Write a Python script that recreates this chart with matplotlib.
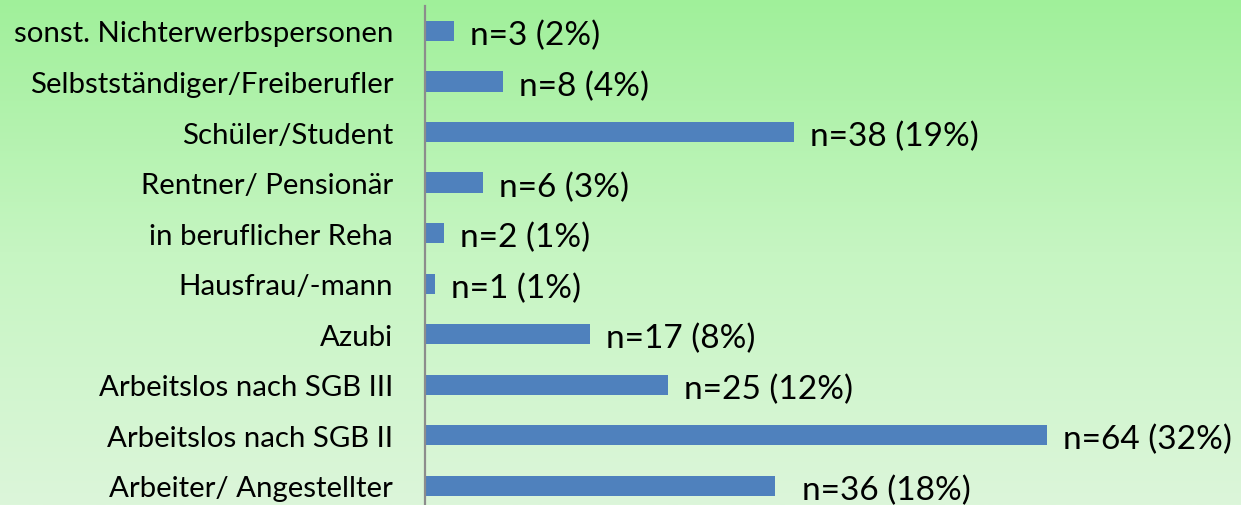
import numpy as np
import matplotlib
matplotlib.use("Agg")
import matplotlib.pyplot as plt
from matplotlib.colors import LinearSegmentedColormap

categories = ["Arbeiter/ Angestellter", "Arbeitslos nach SGB II", "Arbeitslos nach SGB III",
              "Azubi", "Hausfrau/-mann", "in beruflicher Reha", "Rentner/ Pensionär",
              "Schüler/Student", "Selbstständiger/Freiberufler", "sonst. Nichterwerbspersonen"]
counts = [36, 64, 25, 17, 1, 2, 6, 38, 8, 3]
percents = [18, 32, 12, 8, 1, 1, 3, 19, 4, 2]

W, H = 1241, 506
fig = plt.figure(figsize=(W / 100, H / 100), dpi=100)

# gradient background
bg = fig.add_axes([0, 0, 1, 1], zorder=0)
cmap = LinearSegmentedColormap.from_list("g", ["#dcf6da", "#c6f5c2", "#a0f09a"])
grad = np.linspace(0, 1, 256).reshape(-1, 1)
bg.imshow(grad, aspect="auto", cmap=cmap, origin="lower", extent=[0, 1, 0, 1])
bg.set_axis_off()

font = "Lato"
left = 425 / W
right = 1241 / W
top_px = 6.7
bot_px = 512.0
ax = fig.add_axes([left, 1 - bot_px / H, right - left, (bot_px - top_px) / H], zorder=1)
ax.set_facecolor("none")

y = np.arange(len(categories))
ax.barh(y, counts, height=0.4, color="#4F81BD", zorder=2)
ax.set_ylim(-0.5, len(categories) - 0.5)
xmax = (1241 - 425) / 9.72
ax.set_xlim(0, xmax)

ax.set_yticks(y)
ax.set_yticklabels(categories, fontsize=21.2, family=font)
ax.tick_params(axis="y", length=0, pad=23)
ax.set_xticks([])
for s in ["top", "right", "bottom"]:
    ax.spines[s].set_visible(False)
ax.spines["left"].set_color("#8c8c8c")
ax.spines["left"].set_linewidth(1.6)

for i, (yi, c, p) in enumerate(zip(y, counts, percents)):
    dx = 27 if i == 0 else 16
    ax.annotate(f"n={c} ({p}%)", xy=(c, yi), xytext=(dx, -4), textcoords="offset pixels",
                ha="left", va="center", fontsize=24, family=font, color="black")

fig.savefig("out.png", dpi=100)
